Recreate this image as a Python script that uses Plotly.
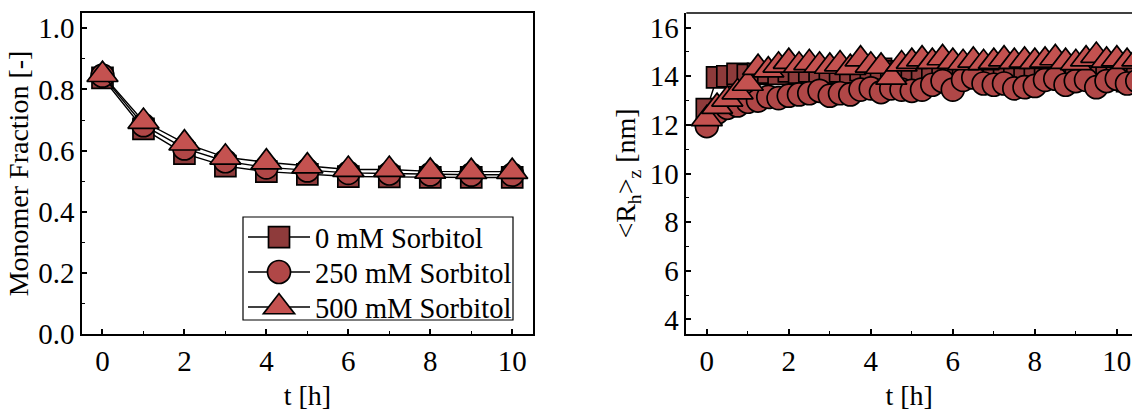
import plotly.graph_objects as go

# ---- Monomer fraction (SEC) ----
t_hours = [0, 1, 2, 3, 4, 5, 6, 7, 8, 9, 10]
frac_0mM = [0.838, 0.671, 0.590, 0.549, 0.531, 0.522, 0.515, 0.514, 0.512, 0.512, 0.512]
frac_250mM = [0.845, 0.683, 0.607, 0.565, 0.545, 0.535, 0.527, 0.525, 0.522, 0.521, 0.521]
frac_500mM = [0.848, 0.695, 0.624, 0.578, 0.562, 0.549, 0.538, 0.538, 0.532, 0.531, 0.531]

# ---- z-average hydrodynamic radius (DLS) ----
t_dls = [0.0, 0.25, 0.5, 0.75, 1.0, 1.25, 1.5, 1.75, 2.0, 2.25, 2.5, 2.75, 3.0, 3.25,
         3.5, 3.75, 4.0, 4.25, 4.5, 4.75, 5.0, 5.25, 5.5, 5.75, 6.0, 6.25, 6.5, 6.75,
         7.0, 7.25, 7.5, 7.75, 8.0, 8.25, 8.5, 8.75, 9.0, 9.25, 9.5, 9.75, 10.0, 10.25,
         10.5]
rh_0mM = [12.65, 13.95, 14.0, 14.1, 14.05, 14.1, 14.15, 14.1, 14.2, 14.15, 14.2, 14.1,
          14.15, 14.2, 14.15, 14.25, 14.2, 14.3, 14.2, 14.15, 14.2, 14.25, 14.2, 14.3,
          14.2, 14.25, 14.2, 14.3, 14.25, 14.2, 14.25, 14.3, 14.2, 14.25, 14.3, 14.2,
          14.25, 14.3, 14.25, 14.2, 14.15, 13.8, 14.0]
rh_250mM = [11.95, 12.5, 12.7, 12.8, 12.95, 13.0, 13.15, 13.1, 13.2, 13.25, 13.3, 13.4,
            13.2, 13.3, 13.25, 13.45, 13.5, 13.35, 13.5, 13.45, 13.4, 13.45, 13.65, 13.8,
            13.45, 13.85, 13.95, 13.7, 13.65, 13.7, 13.5, 13.55, 13.6, 13.85, 13.9, 13.65,
            13.8, 13.85, 13.55, 13.8, 13.9, 13.7, 13.8]
rh_500mM = [12.25, 12.75, 13.05, 13.35, 13.7, 14.35, 14.25, 14.45, 14.6, 14.45, 14.55,
            14.45, 14.4, 14.5, 14.35, 14.7, 14.45, 14.4, 13.95, 14.5, 14.6, 14.7, 14.6,
            14.75, 14.6, 14.55, 14.65, 14.55, 14.6, 14.7, 14.6, 14.65, 14.6, 14.65, 14.75,
            14.6, 14.55, 14.7, 14.85, 14.65, 14.7, 14.6, 14.7]

series_names = ["0 mM Sorbitol", "250 mM Sorbitol", "500 mM Sorbitol"]
series_symbols = ["square", "circle", "triangle-up"]
series_sizes = [21, 23, 27]
series_colors = ["#8E3B3B", "#B04747", "#C45250"]

FONT = "Liberation Serif"
W, H = 1132, 413
MT, MB = 13, 79
PH = H - MT - MB

fig = go.Figure()

left_sets = [frac_0mM, frac_250mM, frac_500mM]
right_sets = [rh_0mM, rh_250mM, rh_500mM]

for i in range(3):
    marker = dict(symbol=series_symbols[i], size=series_sizes[i], color=series_colors[i],
                  line=dict(color="black", width=1.7))
    fig.add_trace(go.Scatter(
        x=t_hours, y=left_sets[i], name=series_names[i], mode="lines+markers",
        line=dict(color="black", width=1.4), marker=marker,
        xaxis="x", yaxis="y", showlegend=True))

for i in range(3):
    marker = dict(symbol=series_symbols[i], size=series_sizes[i], color=series_colors[i],
                  line=dict(color="black", width=1.7))
    fig.add_trace(go.Scatter(
        x=t_dls, y=right_sets[i], name=series_names[i], mode="lines+markers",
        line=dict(color="black", width=1.4), marker=marker,
        xaxis="x2", yaxis="y2", showlegend=False))

tickfont = dict(family=FONT, size=29, color="black")
titlefont = dict(family=FONT, size=28, color="black")

common_axis = dict(
    showline=True, linecolor="black", linewidth=1.5,
    ticks="inside", ticklen=5, tickwidth=1.5, tickcolor="black",
    showgrid=False, zeroline=False, tickfont=tickfont, automargin=True,
)

left_l, left_r = 82 / W, 532.7 / W
right_l = 686.3 / W

# legend frame (pixels from the top-left corner of the figure)
LG_X0, LG_X1, LG_Y0, LG_Y1 = 243, 513, 217, 320

fig.update_layout(
    width=W, height=H,
    margin=dict(l=0, r=0, t=MT, b=MB),
    plot_bgcolor="white", paper_bgcolor="white",
    font=dict(family=FONT, color="black"),
    xaxis=dict(domain=[left_l, left_r], range=[-0.5, 10.5], dtick=2, tick0=0,
               mirror=True,
               minor=dict(dtick=1, tick0=0, ticks="inside", ticklen=3, tickwidth=1.2,
                          tickcolor="black"),
               title=dict(text="t [h]", font=titlefont, standoff=10),
               **common_axis),
    yaxis=dict(domain=[0, 1], range=[0, 1.05], dtick=0.2, tick0=0, tickformat=".1f",
               mirror=True,
               minor=dict(dtick=0.1, tick0=0, ticks="inside", ticklen=3, tickwidth=1.2,
                          tickcolor="black"),
               title=dict(text="Monomer Fraction [-]", font=titlefont, standoff=1),
               **common_axis),
    xaxis2=dict(domain=[right_l, 1.0], range=[-0.5, 10.37], dtick=2, tick0=0,
                anchor="y2", mirror=False,
                minor=dict(dtick=1, tick0=0, ticks="inside", ticklen=3, tickwidth=1.2,
                           tickcolor="black"),
                title=dict(text="t [h]", font=titlefont, standoff=10),
                **common_axis),
    yaxis2=dict(domain=[0, 1], range=[3.4, 16.6], dtick=2, tick0=0, anchor="x2",
                mirror=False,
                minor=dict(dtick=1, tick0=0, ticks="inside", ticklen=3, tickwidth=1.2,
                           tickcolor="black"),
                title=dict(text="&lt;R<sub>h</sub>&gt;<sub>z</sub> [nm]", font=titlefont,
                           standoff=6),
                **common_axis),
    legend=dict(x=LG_X0 / W, y=(H - MB - LG_Y0) / PH, xanchor="left", yanchor="top",
                xref="paper", yref="paper",
                bgcolor="rgba(0,0,0,0)", borderwidth=0,
                font=dict(family=FONT, size=28.5, color="black"),
                itemwidth=62, tracegroupgap=0),
    shapes=[
        dict(type="line", xref="x2 domain", yref="y2 domain", x0=0, x1=1, y0=1, y1=1,
             line=dict(color="black", width=1.5)),
        dict(type="rect", xref="paper", yref="paper",
             x0=LG_X0 / W, x1=LG_X1 / W,
             y0=(H - MB - LG_Y1) / PH, y1=(H - MB - LG_Y0) / PH,
             line=dict(color="black", width=1.2), fillcolor="rgba(0,0,0,0)"),
    ],
)

# Legend symbols are capped at 16 px by plotly: grow them to the trace marker sizes,
# and tighten the row pitch of the legend entries.
sizes_js = "[" + ",".join(str(s) for s in series_sizes) + "]"
post_js = """
var sizes = %s;
var legend = document.querySelector('g.legend');
var items = legend.querySelectorAll('g.traces');
var pos = [];
items.forEach(function(g, i){
  var k = sizes[i] / 16.0;
  g.querySelectorAll('.legendpoints path.scatterpts').forEach(function(p){
    var tr = p.getAttribute('transform') || '';
    p.setAttribute('transform', tr + ' scale(' + k + ')');
    p.style.vectorEffect = 'non-scaling-stroke';
  });
  var m = /translate\\(\\s*([-\\d.e]+)[ ,]+([-\\d.e]+)\\s*\\)/.exec(g.getAttribute('transform') || '');
  pos.push(m ? [parseFloat(m[1]), parseFloat(m[2])] : [0, 0]);
});
if (items.length > 1) {
  var step = 35, lift = 5;
  items.forEach(function(g, i){
    g.setAttribute('transform', 'translate(' + pos[i][0] + ',' + (pos[0][1] - lift + i * step) + ')');
  });
}
""" % sizes_js

fig.write_html("out.html", post_script=post_js)
